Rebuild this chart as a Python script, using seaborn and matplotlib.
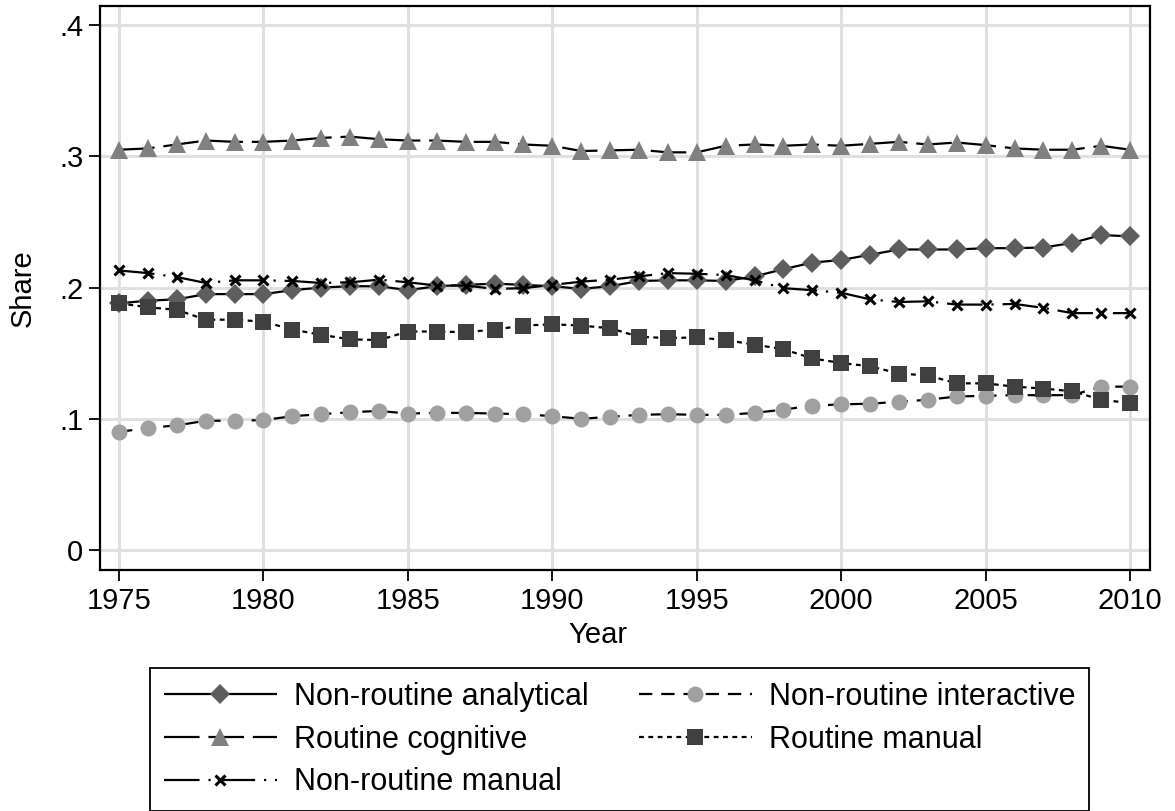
import matplotlib
matplotlib.use("Agg")
import matplotlib.pyplot as plt
import seaborn as sns
import numpy as np

years = list(range(1975, 2011))

nr_analytical = [0.188, 0.190, 0.191, 0.195, 0.195, 0.195, 0.198, 0.200, 0.201, 0.201,
                 0.198, 0.201, 0.202, 0.203, 0.202, 0.201, 0.199, 0.201, 0.205, 0.2055,
                 0.2055, 0.205, 0.2085, 0.214, 0.219, 0.221, 0.225, 0.229, 0.229, 0.229,
                 0.230, 0.230, 0.2305, 0.234, 0.240, 0.239]
nr_interactive = [0.090, 0.093, 0.095, 0.0985, 0.0985, 0.099, 0.102, 0.1035, 0.105, 0.106,
                  0.104, 0.1045, 0.1045, 0.104, 0.1035, 0.102, 0.100, 0.1015, 0.103, 0.1035,
                  0.103, 0.103, 0.1045, 0.107, 0.110, 0.111, 0.1115, 0.113, 0.1145, 0.117,
                  0.1175, 0.118, 0.118, 0.118, 0.1245, 0.1245]
routine_cognitive = [0.305, 0.306, 0.309, 0.312, 0.311, 0.311, 0.312, 0.314, 0.315, 0.313,
                     0.312, 0.312, 0.311, 0.311, 0.309, 0.308, 0.304, 0.3045, 0.305, 0.303,
                     0.303, 0.308, 0.309, 0.308, 0.309, 0.308, 0.3095, 0.311, 0.309, 0.3105,
                     0.3085, 0.306, 0.305, 0.305, 0.308, 0.305]
routine_manual = [0.188, 0.185, 0.183, 0.1755, 0.1755, 0.174, 0.168, 0.164, 0.1605, 0.160,
                  0.1665, 0.1665, 0.166, 0.168, 0.171, 0.172, 0.171, 0.169, 0.1625, 0.1615,
                  0.162, 0.160, 0.1565, 0.153, 0.146, 0.1425, 0.140, 0.1345, 0.133, 0.127,
                  0.127, 0.1245, 0.123, 0.121, 0.1145, 0.112]
nr_manual = [0.213, 0.211, 0.208, 0.2035, 0.2055, 0.2055, 0.205, 0.2035, 0.204, 0.206,
             0.204, 0.2015, 0.2015, 0.199, 0.1995, 0.202, 0.2045, 0.206, 0.2085, 0.211,
             0.2105, 0.2095, 0.2055, 0.1995, 0.198, 0.196, 0.191, 0.189, 0.1895, 0.187,
             0.187, 0.1875, 0.1845, 0.1805, 0.1805, 0.1805]

labels = ["Non-routine analytical", "Non-routine interactive", "Routine cognitive",
          "Routine manual", "Non-routine manual"]

sns.set_theme(style="white")
plt.rcParams['font.family'] = ['Liberation Sans', 'DejaVu Sans']

fig = plt.figure(figsize=(11.75, 8.11), dpi=100)
ax = fig.add_axes([100/1175, 1 - 570/811, 1050/1175, 564/811])

lw = 1.6
specs = [
    (nr_analytical, labels[0], 'D', 10.2, '#5e5e5e', (0, ())),
    (routine_cognitive, labels[2], '^', 13, '#808080', (0, (16, 4))),
    (nr_manual, labels[4], 'x', 7, 'black', (0, (16, 4, 1, 4))),
    (nr_interactive, labels[1], 'o', 11.5, '#a0a0a0', (0, (6, 4))),
    (routine_manual, labels[3], 's', 11.5, '#404040', (0, (2.2, 2))),
]

for vals, lab, mk, ms, col, ls in specs:
    if mk == 'x':
        sns.lineplot(x=years, y=vals, ax=ax, color='black', lw=lw, linestyle=ls,
                     marker='x', markersize=ms, markeredgewidth=2.2,
                     markeredgecolor='black', label=lab)
    else:
        sns.lineplot(x=years, y=vals, ax=ax, color='black', lw=lw, linestyle=ls,
                     marker=mk, markersize=ms, markerfacecolor=col,
                     markeredgecolor=col, markeredgewidth=0, label=lab)

ax.set_xlim(1974.34, 2010.69)
ax.set_ylim(-0.0152, 0.4145)
ax.set_xticks([1975, 1980, 1985, 1990, 1995, 2000, 2005, 2010])
ax.set_yticks([0, 0.1, 0.2, 0.3, 0.4])
ax.set_yticklabels(['0', '.1', '.2', '.3', '.4'])
ax.grid(True, color='#e0e0e0', lw=2.2)
ax.set_axisbelow(True)
for s in ax.spines.values():
    s.set_color('black')
    s.set_linewidth(1.6)
ax.tick_params(axis='both', which='major', direction='out', length=8, width=1.3,
               labelsize=21, colors='black', pad=4, bottom=True, left=True)
ax.set_xlabel('Year', fontsize=21, color='black')
ax.set_ylabel('Share', fontsize=21, color='black')
ax.xaxis.set_label_coords((598 - 100) / 1050, -0.09)
ax.yaxis.set_label_coords(-0.060, 0.5)

h, l = ax.get_legend_handles_labels()
hmap = dict(zip(l, h))
ax.legend().remove()
# column-major fill: col 1 then col 2
order = [labels[0], labels[2], labels[4], labels[1], labels[3]]
leg = fig.legend([hmap[k] for k in order], order, ncol=2, loc='upper left',
                 bbox_to_anchor=(150/1175, 1 - 668/811),
                 borderaxespad=0, frameon=True, fancybox=False,
                 framealpha=1, fontsize=22, handlelength=3.7, handletextpad=0.55,
                 labelspacing=0.42, borderpad=0.45, columnspacing=1.66)
leg.get_frame().set_edgecolor('black')
leg.get_frame().set_linewidth(1.3)
for t in leg.get_texts():
    t.set_color('black')

fig.savefig('out.png', dpi=100)
